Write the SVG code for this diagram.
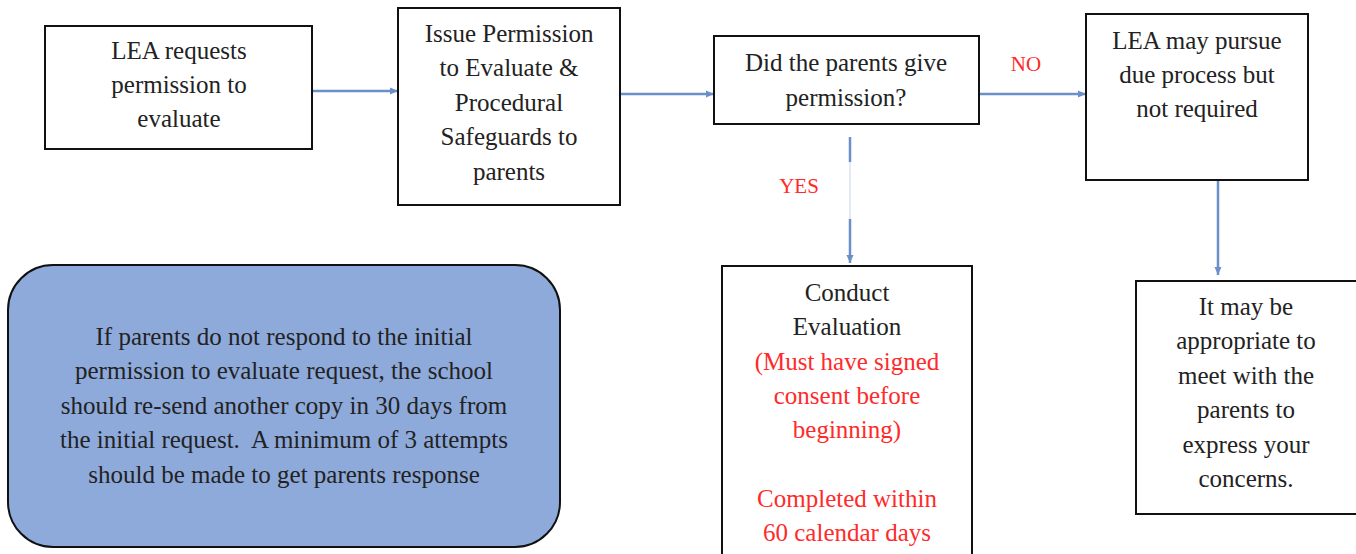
<svg xmlns="http://www.w3.org/2000/svg" width="1356" height="554" viewBox="0 0 1356 554" font-family="Liberation Serif, Times New Roman, serif">
<style>
.box{fill:#fff;stroke:#111;stroke-width:2}
text{font-family:"Liberation Serif",serif}
.t{font-size:25px;fill:#222;text-anchor:middle}
.r{fill:#ff2a2a}
.lbl{font-size:21px;fill:#ff2a2a;text-anchor:middle}
.c{stroke:#6b8fc9;stroke-width:2.5;fill:none}
</style>
<defs>
<marker id="ah" markerUnits="userSpaceOnUse" markerWidth="10" markerHeight="10" viewBox="0 0 10 10" refX="9" refY="5" orient="auto">
<path d="M1,1.5 L9,5 L1,8.5 Z" fill="#6b8fc9"/>
</marker>
</defs>
<g id="connectors">
<line class="c" x1="312" y1="91" x2="398" y2="91" marker-end="url(#ah)"/>
<line class="c" x1="620" y1="94" x2="714" y2="94" marker-end="url(#ah)"/>
<line class="c" x1="979" y1="94" x2="1086" y2="94" marker-end="url(#ah)"/>
<line class="c" x1="850" y1="137" x2="850" y2="162"/>
<line x1="850" y1="162" x2="850" y2="219" stroke="#c6d4ec" stroke-width="1"/>
<line class="c" x1="850" y1="219" x2="850" y2="263" marker-end="url(#ah)"/>
<line class="c" x1="1218" y1="181" x2="1218" y2="275" marker-end="url(#ah)"/>
</g>
<g id="lea-request">
<rect class="box" x="45" y="26" width="267" height="123"/>
<text class="t" x="179" y="59">LEA requests</text>
<text class="t" x="179" y="93">permission to</text>
<text class="t" x="179" y="127">evaluate</text>
</g>
<g id="issue-permission">
<rect class="box" x="398" y="8" width="222" height="197"/>
<text class="t" x="509" y="42">Issue Permission</text>
<text class="t" x="509" y="76">to Evaluate &amp;</text>
<text class="t" x="509" y="111">Procedural</text>
<text class="t" x="509" y="145">Safeguards to</text>
<text class="t" x="509" y="180">parents</text>
</g>
<g id="decision">
<rect class="box" x="714" y="36" width="265" height="88"/>
<text class="t" x="846" y="71">Did the parents give</text>
<text class="t" x="846" y="106">permission?</text>
</g>
<g id="labels">
<text class="lbl" x="1026" y="71">NO</text>
<text class="lbl" x="799" y="193">YES</text>
</g>
<g id="due-process">
<rect class="box" x="1086" y="14" width="222" height="166"/>
<text class="t" x="1197" y="49">LEA may pursue</text>
<text class="t" x="1197" y="83">due process but</text>
<text class="t" x="1197" y="117">not required</text>
</g>
<g id="conduct-evaluation">
<rect class="box" x="722" y="266" width="250" height="300"/>
<text class="t" x="847" y="301">Conduct</text>
<text class="t" x="847" y="335">Evaluation</text>
<text class="t r" x="847" y="370">(Must have signed</text>
<text class="t r" x="847" y="404">consent before</text>
<text class="t r" x="847" y="438">beginning)</text>
<text class="t r" x="847" y="507">Completed within</text>
<text class="t r" x="847" y="541">60 calendar days</text>
</g>
<g id="meet-parents">
<rect class="box" x="1136" y="281" width="230" height="233"/>
<text class="t" x="1246" y="315">It may be</text>
<text class="t" x="1246" y="349">appropriate to</text>
<text class="t" x="1246" y="384">meet with the</text>
<text class="t" x="1246" y="418">parents to</text>
<text class="t" x="1246" y="453">express your</text>
<text class="t" x="1246" y="487">concerns.</text>
</g>
<g id="note">
<rect x="8" y="265" width="552" height="282" rx="45" ry="45" fill="#8eaadb" stroke="#111" stroke-width="2"/>
<text class="t" x="284" y="345">If parents do not respond to the initial</text>
<text class="t" x="284" y="379">permission to evaluate request, the school</text>
<text class="t" x="284" y="414">should re-send another copy in 30 days from</text>
<text class="t" x="284" y="448" xml:space="preserve">the initial request.&#160; A minimum of 3 attempts</text>
<text class="t" x="284" y="483">should be made to get parents response</text>
</g>
</svg>
